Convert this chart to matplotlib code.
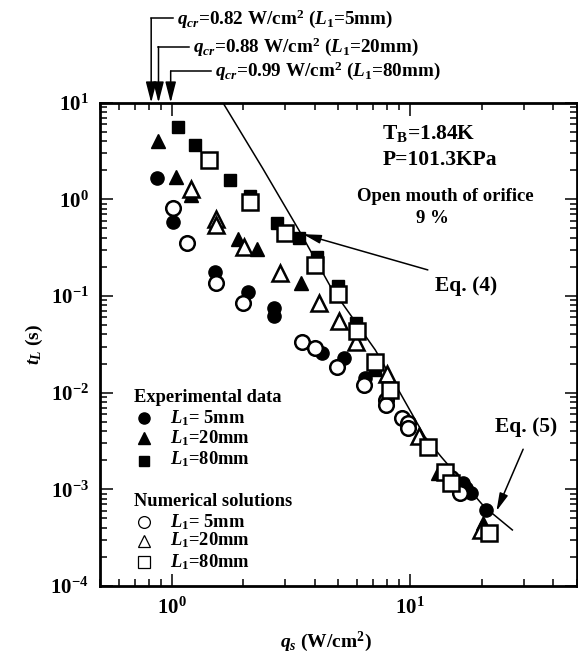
import matplotlib
matplotlib.use("Agg")
import matplotlib.pyplot as plt
from matplotlib.ticker import LogLocator, NullFormatter

plt.rcParams['font.family'] = ['Liberation Serif', 'DejaVu Serif']
plt.rcParams['font.weight'] = 'bold'
plt.rcParams['mathtext.fontset'] = 'custom'
plt.rcParams['mathtext.rm'] = 'Liberation Serif:bold'
plt.rcParams['mathtext.it'] = 'Liberation Serif:bold:italic'
plt.rcParams['mathtext.bf'] = 'Liberation Serif:bold'

# Experimental data (filled markers)
exp5_q = [0.871, 1.01, 1.515, 2.10, 2.68, 2.68, 4.28, 5.27, 6.49, 16.7, 17.2, 18.05, 20.9]
exp5_t = [1.65, 0.587, 0.179, 0.109, 0.0751, 0.062, 0.0255, 0.0227, 0.0141, 0.00116, 0.00103, 0.00091, 0.00061]
exp20_q = [0.879, 1.04, 1.2, 1.894, 2.28, 3.48, 13.1, 20.2]
exp20_t = [4.05, 1.69, 1.11, 0.386, 0.304, 0.137, 0.00147, 0.000446]
exp80_q = [1.065, 1.25, 1.76, 2.13, 2.76, 3.42, 4.08, 4.98, 5.94, 7.15]
exp80_t = [5.57, 3.65, 1.585, 1.08, 0.574, 0.395, 0.256, 0.127, 0.0523, 0.0172]

# Numerical solutions (open markers)
num5_q = [1.01, 1.155, 1.53, 1.99, 3.53, 3.99, 4.95, 6.39, 7.93, 7.93, 9.23, 9.84, 9.84, 14.9, 16.2]
num5_t = [0.82, 0.356, 0.137, 0.0841, 0.0337, 0.029, 0.0186, 0.012, 0.0084, 0.00745, 0.00543, 0.00482, 0.00428, 0.0013, 0.00091]
num20_q = [1.2, 1.53, 1.53, 2.02, 2.85, 4.15, 5.05, 5.92, 7.99, 10.9, 19.9]
num20_t = [1.27, 0.622, 0.543, 0.319, 0.172, 0.0841, 0.0552, 0.0334, 0.0156, 0.00357, 0.00038]
num80_q = [1.43, 2.13, 2.99, 3.99, 5.0, 5.97, 7.1, 8.26, 11.9, 14.0, 14.9, 21.5]
num80_t = [2.55, 0.946, 0.446, 0.209, 0.105, 0.043, 0.0209, 0.0107, 0.00277, 0.00152, 0.00116, 0.00035]

# Eq. (4) / Eq. (5) curve
eq_q = [1.64, 2.41, 3.42, 4.64, 7.15, 8.94, 11.55, 13.5, 20.5, 26.9]
eq_t = [10.0, 2.09, 0.48, 0.125, 0.0277, 0.0107, 0.0035, 0.00218, 0.00066, 0.00038]

q_cr = [0.82, 0.88, 0.99]
q_cr_len = ['5mm', '20mm', '80mm']

fig = plt.figure(figsize=(5.78, 6.61), dpi=100)
ax = fig.add_axes([100 / 578, 75 / 661, 476.5 / 578, 483.3 / 661])
ax.set_xscale('log')
ax.set_yscale('log')
ax.set_xlim(0.5, 50)
ax.set_ylim(1e-4, 10)

# curve
ax.plot(eq_q, eq_t, color='k', lw=1.1, zorder=2)

# filled markers
ax.plot(exp5_q, exp5_t, 'o', color='k', ms=9.5, zorder=3)
ax.plot(exp20_q, exp20_t, '^', color='k', ms=10, zorder=3)
ax.plot(exp80_q, exp80_t, 's', color='k', ms=9, zorder=3)

# open markers
opn = dict(mfc='white', mec='k', mew=1.8, ls='none', zorder=4)
ax.plot(num5_q, num5_t, 'o', ms=10.5, **opn)
ax.plot(num20_q, num20_t, '^', ms=12, **opn)
ax.plot(num80_q, num80_t, 's', ms=11, **opn)

# ticks
ax.set_xticks([1, 10])
ax.set_xticklabels([r'$10^{0}$', r'$10^{1}$'])
ax.set_yticks([1e-4, 1e-3, 1e-2, 1e-1, 1, 10])
ax.set_yticklabels([r'$10^{-4}$', r'$10^{-3}$', r'$10^{-2}$', r'$10^{-1}$', r'$10^{0}$', r'$10^{1}$'])
ax.xaxis.set_minor_locator(LogLocator(base=10, subs=range(2, 10)))
ax.yaxis.set_minor_locator(LogLocator(base=10, subs=range(2, 10), numticks=20))
ax.xaxis.set_minor_formatter(NullFormatter())
ax.yaxis.set_minor_formatter(NullFormatter())
ax.tick_params(which='both', direction='in', top=True, right=True, width=1.1)
ax.tick_params(which='major', length=9, labelsize=15, pad=8)
ax.tick_params(which='minor', length=5)
for s in ax.spines.values():
    s.set_linewidth(2)

ax.set_xlabel(r'$q_s$ (W/cm$^2$)', fontsize=14, fontweight='bold')
ax.set_ylabel(r'$t_L$ (s)', fontsize=14, fontweight='bold')
ax.xaxis.set_label_coords(0.475, -0.09)
ax.yaxis.set_label_coords(-0.115, 0.5)

# critical heat flux arrows at top
trans = ax.get_xaxis_transform()
line_y = [1.1746, 1.1159, 1.0656]
text_x = [1.052, 1.227, 1.515]
for q, ly, tx, L in zip(q_cr, line_y, text_x, q_cr_len):
    ax.plot([q, tx / 1.035], [ly, ly], color='k', lw=1.1, transform=trans, clip_on=False)
    ax.annotate('', xy=(q, 1.0), xytext=(q, ly), xycoords=trans, textcoords=trans,
                arrowprops=dict(arrowstyle='-|>,head_length=1.05,head_width=0.27',
                                color='k', lw=1.1, mutation_scale=12, shrinkA=0, shrinkB=0),
                annotation_clip=False)
    ax.text(tx, ly, r'$q_{cr}$=%.2f W/cm$^2$ ($L_1$=%s)' % (q, L), transform=trans,
            fontsize=13.8, va='center', ha='left')

# annotations
ax.text(0.591, 0.937, r'T$_\mathrm{B}$=1.84K', transform=ax.transAxes, fontsize=15.5, va='center')
ax.text(0.594, 0.881, 'P=101.3KPa', transform=ax.transAxes, fontsize=15.5, va='center')
ax.text(0.725, 0.806, 'Open mouth of orifice', transform=ax.transAxes, fontsize=13.5, va='center', ha='center')
ax.text(0.697, 0.761, '9 %', transform=ax.transAxes, fontsize=13.5, va='center', ha='center')

eq_arrow = dict(arrowstyle='-|>,head_length=0.9,head_width=0.22', color='k',
                lw=1.1, mutation_scale=12, shrinkA=0, shrinkB=0)
ax.text(0.703, 0.621, 'Eq. (4)', transform=ax.transAxes, fontsize=15.5, va='center')
ax.annotate('', xy=(0.426, 0.728), xytext=(0.688, 0.654), xycoords='axes fraction',
            arrowprops=eq_arrow)
ax.text(0.829, 0.329, 'Eq. (5)', transform=ax.transAxes, fontsize=15.5, va='center')
ax.annotate('', xy=(0.832, 0.155), xytext=(0.888, 0.283), xycoords='axes fraction',
            arrowprops=eq_arrow)

# legend drawn by hand
lx_m, lx_t = 0.0923, 0.147
lfs = 13.3
ax.text(0.071, 0.389, 'Experimental data', transform=ax.transAxes, fontsize=lfs, va='center')
ax.plot(lx_m, 0.347, 'o', color='k', ms=8, transform=ax.transAxes, clip_on=False)
ax.plot(lx_m, 0.306, '^', color='k', ms=8.5, transform=ax.transAxes, clip_on=False)
ax.plot(lx_m, 0.259, 's', color='k', ms=7.5, transform=ax.transAxes, clip_on=False)
ax.text(lx_t, 0.347, r'$L_1$= 5mm', transform=ax.transAxes, fontsize=lfs, va='center')
ax.text(lx_t, 0.306, r'$L_1$=20mm', transform=ax.transAxes, fontsize=lfs, va='center')
ax.text(lx_t, 0.262, r'$L_1$=80mm', transform=ax.transAxes, fontsize=lfs, va='center')

ax.text(0.071, 0.174, 'Numerical solutions', transform=ax.transAxes, fontsize=lfs, va='center')
leg_open = dict(mfc='white', mec='k', mew=0.9, transform=ax.transAxes, clip_on=False)
ax.plot(lx_m, 0.133, 'o', ms=8.5, **leg_open)
ax.plot(lx_m, 0.094, '^', ms=9, **leg_open)
ax.plot(lx_m, 0.050, 's', ms=8.5, **leg_open)
ax.text(lx_t, 0.133, r'$L_1$= 5mm', transform=ax.transAxes, fontsize=lfs, va='center')
ax.text(lx_t, 0.094, r'$L_1$=20mm', transform=ax.transAxes, fontsize=lfs, va='center')
ax.text(lx_t, 0.050, r'$L_1$=80mm', transform=ax.transAxes, fontsize=lfs, va='center')

fig.savefig('out.png', dpi=100)
